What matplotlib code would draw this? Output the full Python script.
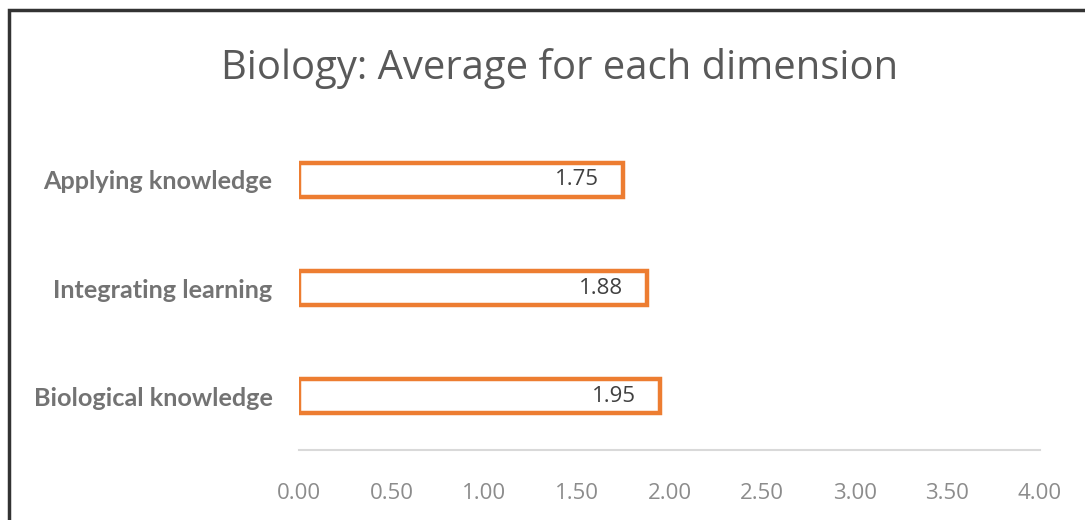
import matplotlib
matplotlib.use("Agg")
import matplotlib.pyplot as plt
from matplotlib.patches import Rectangle

categories = ["Biological knowledge", "Integrating learning", "Applying knowledge"]
values = [1.95, 1.88, 1.75]
xticks = [0.0, 0.5, 1.0, 1.5, 2.0, 2.5, 3.0, 3.5, 4.0]

orange = "#ED7D31"

fig = plt.figure(figsize=(10.85, 5.2), dpi=100)
ax = fig.add_axes([0.2756, 0.1346, 0.6829, 0.6231])

ax.barh(range(len(categories)), values, height=0.31, color="white",
        edgecolor=orange, linewidth=3.2)

for i, v in enumerate(values):
    ax.text(v - 0.13, i, f"{v:.2f}", ha="right", va="center",
            fontsize=16, color="#404040", family="Open Sans")

ax.set_xlim(0, 4)
ax.set_ylim(-0.5, len(categories) - 0.5)
ax.set_xticks(xticks)
ax.set_xticklabels([f"{t:.2f}" for t in xticks], family="Open Sans",
                   fontsize=16, color="#8C8C8C")
ax.set_yticks(range(len(categories)))
ax.set_yticklabels(categories, family="Lato", fontweight="bold",
                   fontsize=18.2, color="#737373")
ax.tick_params(length=0)
ax.tick_params(axis="x", pad=24)
ax.tick_params(axis="y", pad=19)
for s in ["top", "right", "left"]:
    ax.spines[s].set_visible(False)
ax.spines["bottom"].set_color("#D9D9D9")
ax.spines["bottom"].set_linewidth(1.5)

fig.text(0.516, 0.868, "Biology: Average for each dimension", ha="center",
         va="center", fontsize=28.8, color="#595959", family="Open Sans")

# outer frame of the original chart
fig.patches.append(Rectangle((9 / 1085, -0.1), 1.2, 1.1 - 10 / 520,
                             transform=fig.transFigure, fill=False,
                             edgecolor="#333333", linewidth=2.5))

fig.savefig("out.png", dpi=100)
